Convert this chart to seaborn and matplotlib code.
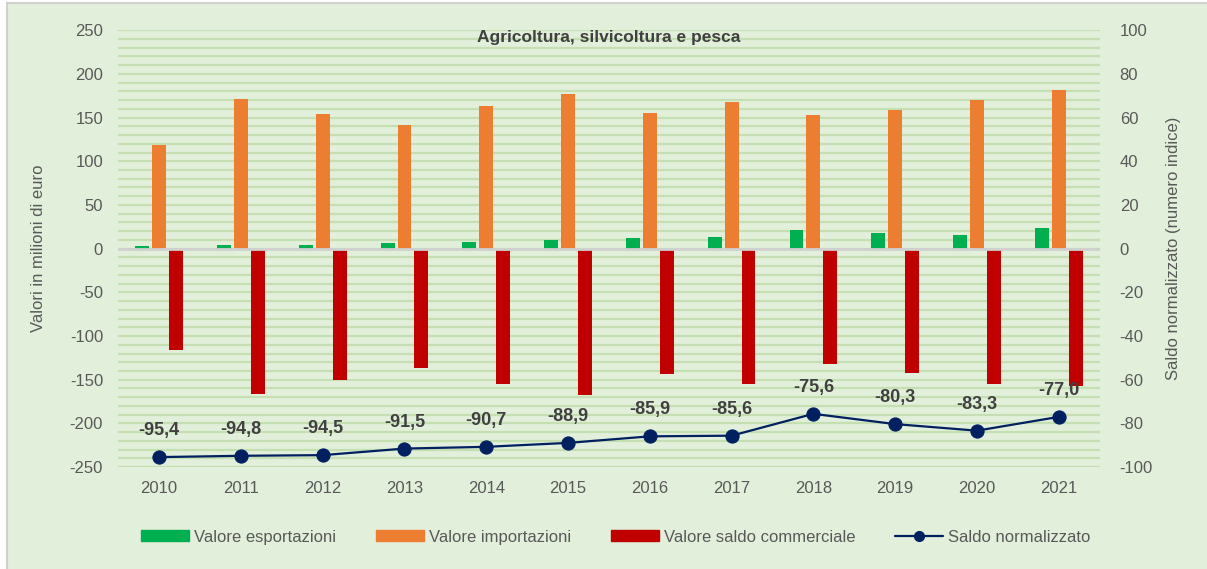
import numpy as np
import pandas as pd
import matplotlib
matplotlib.use("Agg")
import matplotlib.pyplot as plt
import seaborn as sns
from matplotlib.patches import Patch, Rectangle
from matplotlib.lines import Line2D

# data
anni = ["2010", "2011", "2012", "2013", "2014", "2015",
        "2016", "2017", "2018", "2019", "2020", "2021"]
esportazioni = [2.8, 4.6, 4.4, 6.3, 7.9, 10.4, 11.8, 13.0, 21.0, 17.4, 15.5, 23.5]
importazioni = [119, 171, 154, 142, 163, 177, 155, 168, 153, 159, 170, 181]
saldo = [-116, -166, -150, -136, -155, -167, -143, -155, -132, -142, -155, -157]
saldo_norm = [-95.4, -94.8, -94.5, -91.5, -90.7, -88.9, -85.9, -85.6, -75.6, -80.3, -83.3, -77.0]

serie = ["Valore esportazioni", "Valore importazioni", "Valore saldo commerciale"]
colori = ["#00b050", "#ed7d31", "#c00000"]
blu = "#002060"
grigio = "#595959"
sfondo = "#e2efda"

df = pd.DataFrame({
    "anno": anni * 3,
    "valore": esportazioni + importazioni + saldo,
    "serie": [serie[0]] * 12 + [serie[1]] * 12 + [serie[2]] * 12,
})

sns.set_theme(style="white")
plt.rcParams["font.family"] = ["Liberation Sans Narrow", "Liberation Sans", "DejaVu Sans"]
plt.rcParams["axes.unicode_minus"] = False

fig = plt.figure(figsize=(12.07, 5.69), dpi=100, facecolor="white")
# green panel with grey left/top border, as in the source page
fig.patches.append(Rectangle((7 / 1207, 0), 1.0, 1 - 3 / 569, transform=fig.transFigure,
                             facecolor=sfondo, edgecolor="none", zorder=-10))
fig.lines.append(Line2D([7 / 1207, 7 / 1207], [0, 1 - 3 / 569], transform=fig.transFigure,
                        color="#d0d0d0", linewidth=1.5, zorder=-9))
fig.lines.append(Line2D([7 / 1207, 1], [1 - 3 / 569, 1 - 3 / 569], transform=fig.transFigure,
                        color="#d0d0d0", linewidth=1.5, zorder=-9))

ax = fig.add_axes([0.098, 0.179, 0.813, 0.768])
ax.set_facecolor(sfondo)

# gridlines every 10 units
for v in range(-250, 251, 10):
    ax.axhline(v, color="#c5dfb3", linewidth=1.6, zorder=0)

sns.barplot(data=df, x="anno", y="valore", hue="serie", palette=colori, saturation=1,
            width=0.62, gap=0.18, linewidth=0, ax=ax, legend=False, zorder=2)
ax.axhline(0, color="#d0d0d0", linewidth=2, zorder=3)

ax.set_xlim(-0.5, 11.5)
ax.set_ylim(-250, 250)
ax.set_yticks(range(-250, 251, 50))
ax.set_xlabel("")
ax.set_ylabel("Valori in milioni di euro", fontsize=12, color=grigio)
ax.yaxis.set_label_coords(-0.074, 0.5)
ax.tick_params(axis="both", length=0, labelsize=12, colors=grigio)
ax.tick_params(axis="y", pad=11)
ax.tick_params(axis="x", pad=10)
for s in ax.spines.values():
    s.set_visible(False)

ax2 = ax.twinx()
sns.lineplot(x=np.arange(12), y=saldo_norm, ax=ax2, color=blu, linewidth=1.6,
             marker="o", markersize=9.5, markeredgecolor=blu, zorder=4)
ax2.set_ylim(-100, 100)
ax2.set_yticks(range(-100, 101, 20))
ax2.set_ylabel("Saldo normalizzato (numero indice)", fontsize=12, color=grigio)
ax2.yaxis.set_label_coords(1.068, 0.5)
ax2.tick_params(axis="y", length=0, labelsize=12, colors=grigio, pad=14.5)
for s in ax2.spines.values():
    s.set_visible(False)

for i, v in enumerate(saldo_norm):
    ax2.annotate(f"{v:.1f}".replace(".", ","), (i, v), xytext=(0, 19),
                 textcoords="offset points", ha="center", va="center",
                 fontsize=13, fontweight="bold", color="#404040")

ax.text(0.5, 0.984, "Agricoltura, silvicoltura e pesca", transform=ax.transAxes,
        ha="center", va="center", fontsize=12.5, fontweight="bold", color="#404040")

handles = [Patch(color=c) for c in colori]
handles.append(Line2D([], [], color=blu, marker="o", markersize=7, linewidth=1.6))
fig.legend(handles, serie + ["Saldo normalizzato"], loc="center",
           bbox_to_anchor=(0.51, 0.056), ncol=4, frameon=False, fontsize=12,
           labelcolor=grigio, handlelength=2.88, handleheight=0.6,
           columnspacing=2.4, handletextpad=0.3)

fig.savefig("out.png", dpi=100)
